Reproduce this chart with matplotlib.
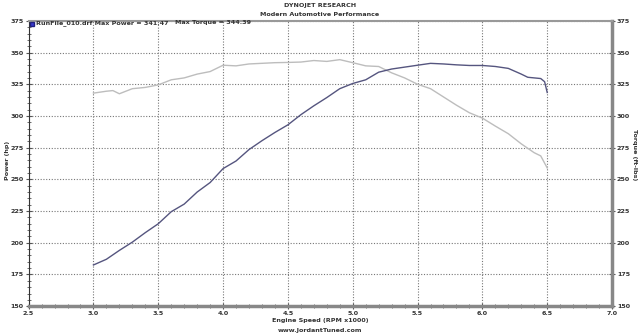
import numpy as np
import matplotlib
matplotlib.use('Agg')
import matplotlib.pyplot as plt
from matplotlib.ticker import MultipleLocator

# engine speed (x1000 rpm)
rpm_tq = [3.0, 3.1, 3.15, 3.2, 3.3, 3.4, 3.5, 3.6, 3.7, 3.8, 3.9, 4.0, 4.1, 4.2, 4.3,
          4.4, 4.5, 4.6, 4.7, 4.8, 4.9, 5.0, 5.1, 5.2, 5.3, 5.4, 5.5, 5.6, 5.7, 5.8,
          5.9, 6.0, 6.1, 6.2, 6.3, 6.4, 6.45, 6.5]
torque = [318, 319.5, 320, 317.5, 321.5, 322.5, 324.5, 328.5, 330, 333, 335, 340,
          339.5, 341, 341.5, 342, 342.2, 342.5, 343.7, 343, 344.4, 342, 339.5, 339,
          334, 330, 325, 321.5, 315, 308.5, 302.5, 298.3, 292, 286, 278, 271, 268.5, 259]

rpm_hp = [3.0, 3.1, 3.2, 3.3, 3.4, 3.5, 3.6, 3.7, 3.8, 3.9, 4.0, 4.1, 4.2, 4.3, 4.4,
          4.5, 4.6, 4.7, 4.8, 4.9, 5.0, 5.1, 5.2, 5.3, 5.4, 5.5, 5.6, 5.7, 5.8, 5.9,
          6.0, 6.1, 6.2, 6.3, 6.35, 6.45, 6.48, 6.5]
power = [182.5, 187, 194, 200.5, 208, 215, 224.5, 230.5, 240, 247.5, 258.5, 264.5,
         273.5, 280.5, 287, 293, 301, 308, 314.5, 321.5, 325.6, 328.5, 334.5, 337,
         338.5, 340, 341.47, 341, 340.3, 339.8, 339.8, 339, 337.5, 333, 330.5, 329.5,
         327, 318.5]

legend_txt = 'RunFile_010.drf Max Power = 341.47'
legend_txt2 = 'Max Torque = 344.39'

plt.rcParams['font.family'] = 'DejaVu Sans'
fs = 4.6
txtc = '#333333'

fig = plt.figure(figsize=(6.4, 3.36), dpi=100)
ax = fig.add_axes([0.0447, 0.0887, 0.9116, 0.8493])

ax.plot(rpm_tq, torque, color='#bdbdbd', lw=1.0, zorder=3)
ax.plot(rpm_hp, power, color='#55557f', lw=1.0, zorder=4)

ax.set_xlim(2.5, 7.0)
ax.set_ylim(150, 375)
ax.xaxis.set_major_locator(MultipleLocator(0.5))
ax.xaxis.set_minor_locator(MultipleLocator(0.1))
ax.yaxis.set_major_locator(MultipleLocator(25))
ax.yaxis.set_minor_locator(MultipleLocator(5))
ax.xaxis.set_major_formatter(plt.FuncFormatter(lambda v, p: '%.1f' % v))

ax.grid(True, which='major', color='#777777', ls=(0, (1, 1.5)), lw=0.8)
ax.tick_params(which='both', direction='inout', labelsize=fs, colors='#555555',
               labelcolor=txtc, pad=1.5)
ax.tick_params(which='major', length=4, width=0.8)
ax.tick_params(which='minor', length=3, width=0.6)
ax.tick_params(axis='y', right=True, labelright=True)
for lab in ax.get_xticklabels() + ax.get_yticklabels():
    lab.set_fontweight('bold')

ax.spines['left'].set_color('#333333')
ax.spines['left'].set_linewidth(0.8)
ax.spines['bottom'].set_color('#888888')
ax.spines['bottom'].set_linewidth(2.5)
ax.spines['right'].set_color('#888888')
ax.spines['right'].set_linewidth(2.5)
ax.spines['top'].set_color('#999999')
ax.spines['top'].set_linewidth(1.5)

fig.text(0.5, 1 - 320.5 / 336, 'Engine Speed (RPM x1000)', fontsize=fs, fontweight='bold',
         color=txtc, ha='center', va='center')
fig.text(0.5, 1 - 330.5 / 336, 'www.JordantTuned.com', fontsize=fs, fontweight='bold',
         color=txtc, ha='center', va='center')
fig.text(8 / 640, 1 - 160 / 336, 'Power (hp)', rotation=90, fontsize=fs, fontweight='bold',
         color=txtc, ha='center', va='center')
fig.text(634 / 640, 1 - 155 / 336, 'Torque (ft-lbs)', rotation=-90, fontsize=fs,
         fontweight='bold', color=txtc, ha='center', va='center')

fig.text(0.5, 1 - 5.5 / 336, 'DYNOJET RESEARCH', fontsize=fs, fontweight='bold', color=txtc,
         ha='center', va='center')
fig.text(0.5, 1 - 14 / 336, 'Modern Automotive Performance', fontsize=fs, fontweight='bold',
         color=txtc, ha='center', va='center')

# legend
ax.plot([2.53], [372.8], marker='s', ms=3.5, color='#3a3ad0', mec='#202080',
        clip_on=False, zorder=6)
ax.text(2.56, 373.3, legend_txt, fontsize=fs, fontweight='bold', color=txtc,
        va='center', ha='left')
ax.text(3.63, 373.3, legend_txt2, fontsize=fs, fontweight='bold', color=txtc,
        va='center', ha='left')

fig.savefig('out.png', dpi=100)
